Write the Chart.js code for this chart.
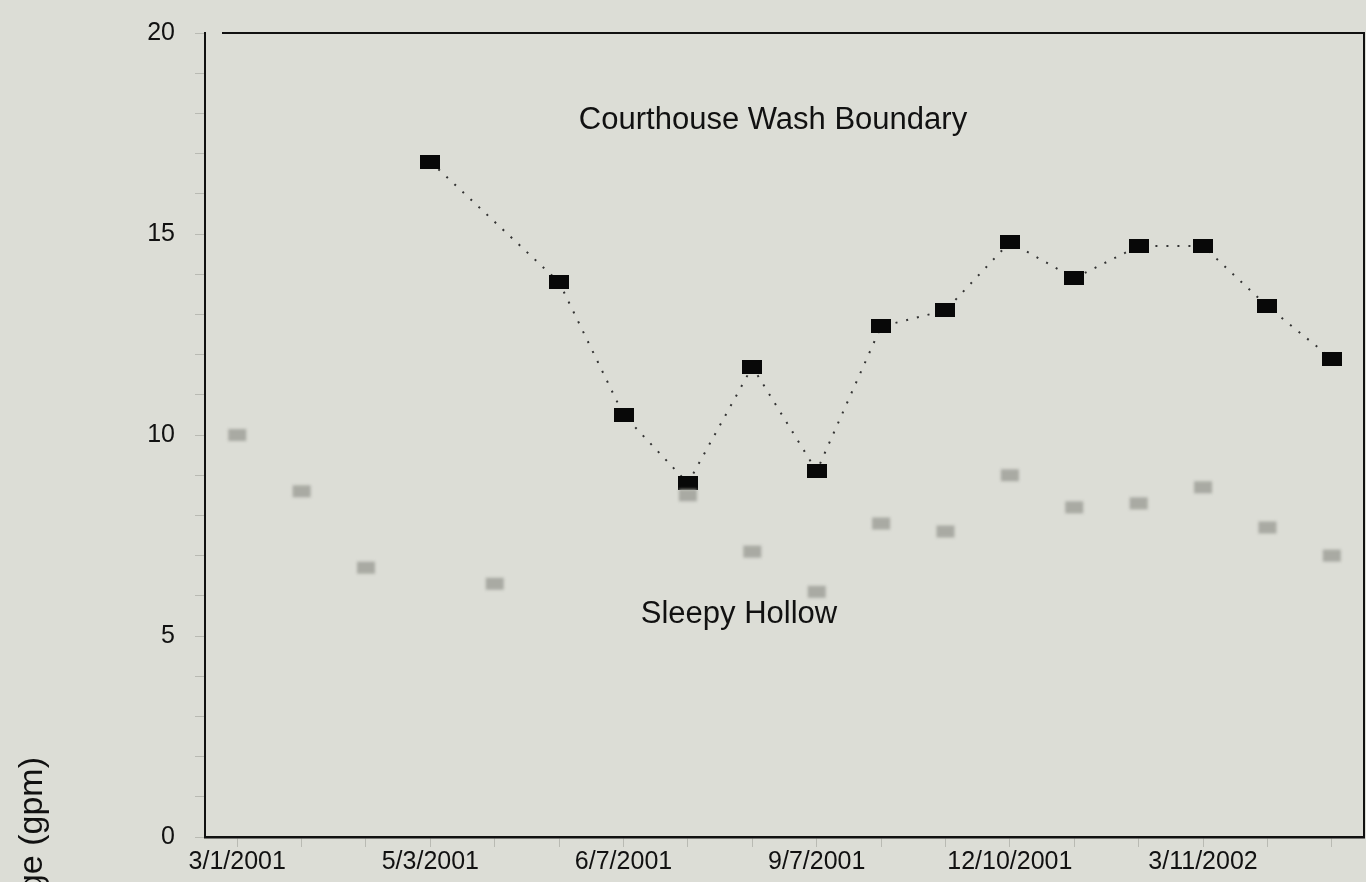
<!DOCTYPE html>
<html>
<head>
<meta charset="utf-8">
<script src="https://cdn.jsdelivr.net/npm/chart.js@4.4.1/dist/chart.umd.min.js"></script>
<style>
  html, body { margin: 0; padding: 0; background: #dcddd6; overflow: hidden; }
  #wrap { width: 1366px; height: 882px; overflow: hidden; }
</style>
</head>
<body>
<div id="wrap"><canvas id="flowChart" width="1376" height="882"></canvas></div>
<script>
// tick labels along the bottom (one slot per sampling date)
const dateLabels = ['3/1/2001', '', '', '5/3/2001', '', '', '6/7/2001', '', '', '9/7/2001', '', '',
    '12/10/2001', '', '', '3/11/2002', '', ''];

const courthouseWash = [null, null, null, 16.8, null, 13.8, 10.5, 8.8, 11.7, 9.1, 12.7, 13.1,
    14.8, 13.9, 14.7, 14.7, 13.2, 11.9];

const sleepyHollow = [10.0, 8.6, 6.7, null, 6.3, null, null, 8.5, 7.1, 6.1, 7.8, 7.6,
    9.0, 8.2, 8.3, 8.7, 7.7, 7.0];

const yTickLabels = [0, 5, 10, 15, 20];

// marker images
function makeMarker(w, h, color, blur) {
    const pad = blur ? 6 : 0;
    const c = document.createElement('canvas');
    c.width = w + pad * 2;
    c.height = h + pad * 2;
    const g = c.getContext('2d');
    if (blur) g.filter = 'blur(' + blur + 'px)';
    g.fillStyle = color;
    g.fillRect(pad, pad, w, h);
    return c;
}
const darkBox = makeMarker(20, 14, '#080808', 0);
const greyBox = makeMarker(18, 12, '#a9aaa3', 1.5);

const frame = {
    id: 'frame',
    beforeDraw(chart) {
        const ctx = chart.ctx;
        ctx.save();
        ctx.fillStyle = '#dcddd6';
        ctx.fillRect(0, 0, chart.width, chart.height);
        ctx.restore();
    },
    afterDraw(chart) {
        const ctx = chart.ctx;
        const a = chart.chartArea;
        ctx.save();
        ctx.strokeStyle = '#111';
        ctx.lineWidth = 2;
        ctx.beginPath();
        ctx.moveTo(a.left + 17, a.top);
        ctx.lineTo(a.right, a.top);
        ctx.lineTo(a.right, a.bottom);
        ctx.stroke();

        ctx.fillStyle = '#111';
        ctx.font = '31px "Liberation Sans", Arial, sans-serif';
        ctx.textAlign = 'center';
        ctx.textBaseline = 'middle';
        ctx.fillText('Courthouse Wash Boundary', 773, 120);
        ctx.fillText('Sleepy Hollow', 739, 614);

        // y axis title, mostly running off the bottom of the page
        ctx.font = '34px "Liberation Sans", Arial, sans-serif';
        ctx.translate(42, 757);
        ctx.rotate(-Math.PI / 2);
        ctx.textAlign = 'right';
        ctx.textBaseline = 'alphabetic';
        ctx.fillText('Discharge (gpm)', 0, 0);
        ctx.restore();
    }
};

new Chart(document.getElementById('flowChart'), {
    type: 'line',
    data: {
        labels: dateLabels,
        datasets: [{
            label: 'Sleepy Hollow',
            data: sleepyHollow,
            showLine: false,
            pointStyle: greyBox,
            pointRadius: 9,
            order: 0
        }, {
            label: 'Courthouse Wash Boundary',
            data: courthouseWash,
            borderColor: '#333',
            borderWidth: 2,
            borderDash: [2, 9],
            spanGaps: true,
            tension: 0,
            pointStyle: darkBox,
            pointRadius: 10,
            order: 1
        }]
    },
    plugins: [frame],
    options: {
        responsive: false,
        animation: false,
        layout: { padding: { top: 33, right: 2, left: 0, bottom: 0 } },
        plugins: {
            legend: { display: false },
            tooltip: { enabled: false }
        },
        scales: {
            x: {
                offset: true,
                grid: {
                    display: true,
                    drawOnChartArea: false,
                    offset: false,
                    tickLength: 10,
                    color: '#b9bab3'
                },
                border: { color: '#111', width: 2.5 },
                ticks: {
                    autoSkip: false,
                    maxRotation: 0,
                    padding: 0,
                    color: '#111',
                    font: { family: '"Liberation Sans", Arial, sans-serif', size: 25 }
                },
                afterFit(scale) {
                    scale.height = 45;
                    scale.paddingLeft = 0;
                    scale.paddingRight = 0;
                }
            },
            y: {
                min: 0,
                max: 20,
                grid: {
                    display: true,
                    drawOnChartArea: false,
                    tickLength: 10,
                    color: '#b9bab3'
                },
                border: { color: '#111', width: 2 },
                ticks: {
                    stepSize: 1,
                    padding: 20,
                    color: '#111',
                    font: { family: '"Liberation Sans", Arial, sans-serif', size: 25 },
                    callback: v => yTickLabels.includes(v) ? String(v) : ''
                },
                afterFit(scale) {
                    scale.width = 205;
                    scale.paddingTop = 0;
                    scale.paddingBottom = 0;
                }
            }
        }
    }
});
</script>
</body>
</html>
